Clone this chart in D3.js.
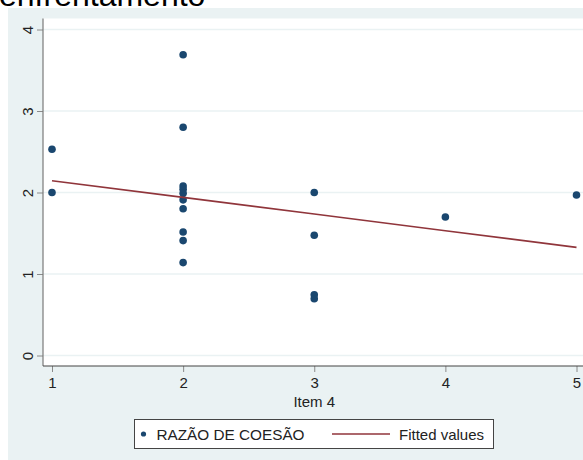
<!DOCTYPE html>
<html>
<head>
<meta charset="utf-8">
<script src="https://cdn.jsdelivr.net/npm/d3@7"></script>
<style>
  html, body { margin: 0; padding: 0; background: #ffffff; overflow: hidden; }
  svg { display: block; font-family: Arial, "Liberation Sans", Helvetica, sans-serif; }
</style>
</head>
<body>
<svg id="chart" width="583" height="460"></svg>
<script>
// Scatter of cohesion ratio against Item 4, with a linear fit
const titleText = "enfrentamento";
const xTicks = [1, 2, 3, 4, 5];
const yTicks = [0, 1, 2, 3, 4];
const xLabel = "Item 4";
const seriesName = "RAZÃO DE COESÃO";
const fitName = "Fitted values";

const item4 = [1, 1, 2, 2, 2, 2, 2, 2, 2, 2, 2, 2, 3, 3, 3, 3, 4, 5];
const razao = [2.53, 2.00, 3.69, 2.80, 2.08, 2.04, 1.99, 1.91, 1.80, 1.515, 1.41, 1.14,
               2.00, 1.475, 0.746, 0.697, 1.70, 1.97];

const W = 583, H = 460;
const svg = d3.select("#chart");

// Ordinary least squares fit
const n = item4.length;
const mx = d3.mean(item4), my = d3.mean(razao);
let sxy = 0, sxx = 0;
for (let i = 0; i < n; i++) {
  sxy += (item4[i] - mx) * (razao[i] - my);
  sxx += (item4[i] - mx) ** 2;
}
const slope = sxy / sxx;
const intercept = my - slope * mx;
const fitted = item4.map(x => intercept + slope * x);

const x = d3.scaleLinear().domain([1, 5]).range([52, 576.5]);
const y = d3.scaleLinear().domain([0, 4]).range([355.5, 29.5]);

const plotLeft = 43, plotTop = 18.5, plotBottom = 366, plotRight = W;

// title (mostly above the visible area)
svg.append("text")
  .attr("x", -1).attr("y", 6)
  .attr("font-size", 32)
  .attr("fill", "#000")
  .text(titleText);

// graph region background
svg.append("rect")
  .attr("x", 8).attr("y", 8)
  .attr("width", W - 8).attr("height", H - 8)
  .attr("fill", "#eaf2f3");

// plot region
svg.append("rect")
  .attr("x", plotLeft).attr("y", plotTop)
  .attr("width", plotRight - plotLeft).attr("height", plotBottom - plotTop)
  .attr("fill", "#ffffff");

// horizontal grid lines
svg.append("g")
  .selectAll("line")
  .data(yTicks)
  .join("line")
  .attr("x1", plotLeft).attr("x2", plotRight)
  .attr("y1", d => y(d)).attr("y2", d => y(d))
  .attr("stroke", "#eaf2f3")
  .attr("stroke-width", 1.5);

// y axis
const yAxis = svg.append("g")
  .attr("transform", `translate(${plotLeft},0)`)
  .call(d3.axisLeft(y).tickValues(yTicks).tickSize(6).tickPadding(0).tickFormat(d3.format("d")));
yAxis.select(".domain").remove();
yAxis.selectAll(".tick line").attr("stroke", "#8a8a8a");
yAxis.selectAll(".tick text")
  .attr("x", 0).attr("dy", 0)
  .attr("text-anchor", "middle")
  .attr("font-size", 15)
  .attr("font-family", "Arial, 'Liberation Sans', sans-serif")
  .attr("fill", "#222")
  .attr("transform", "translate(-16,0) rotate(-90)")
  .attr("dominant-baseline", "central");
svg.append("line")
  .attr("x1", plotLeft).attr("x2", plotLeft)
  .attr("y1", plotTop).attr("y2", plotBottom)
  .attr("stroke", "#7a7a7a").attr("stroke-width", 1.2);

// x axis
const xAxis = svg.append("g")
  .attr("transform", `translate(0,${plotBottom})`)
  .call(d3.axisBottom(x).tickValues(xTicks).tickSize(6).tickPadding(5).tickFormat(d3.format("d")));
xAxis.select(".domain").remove();
xAxis.selectAll(".tick line").attr("stroke", "#8a8a8a");
xAxis.selectAll(".tick text")
  .attr("font-size", 15)
  .attr("font-family", "Arial, 'Liberation Sans', sans-serif")
  .attr("fill", "#222");
svg.append("line")
  .attr("x1", plotLeft).attr("x2", plotRight)
  .attr("y1", plotBottom).attr("y2", plotBottom)
  .attr("stroke", "#444").attr("stroke-width", 1.2);

svg.append("text")
  .attr("x", x(3)).attr("y", 406.5)
  .attr("text-anchor", "middle")
  .attr("font-size", 15)
  .attr("fill", "#222")
  .text(xLabel);

// points
svg.append("g")
  .selectAll("circle")
  .data(item4.map((v, i) => [v, razao[i]]))
  .join("circle")
  .attr("cx", d => x(d[0]))
  .attr("cy", d => y(d[1]))
  .attr("r", 3.8)
  .attr("fill", "#1a476f");

// fitted line
const fitPts = item4.map((v, i) => [v, fitted[i]]).sort((a, b) => a[0] - b[0]);
svg.append("path")
  .datum(fitPts)
  .attr("d", d3.line().x(d => x(d[0])).y(d => y(d[1])))
  .attr("fill", "none")
  .attr("stroke", "#90353b")
  .attr("stroke-width", 1.6);

// legend
const lg = svg.append("g");
lg.append("rect")
  .attr("x", 134.5).attr("y", 419.5)
  .attr("width", 359).attr("height", 29)
  .attr("fill", "#ffffff")
  .attr("stroke", "#444").attr("stroke-width", 1);
lg.append("circle")
  .attr("cx", 143.5).attr("cy", 434)
  .attr("r", 2.6)
  .attr("fill", "#1a476f");
lg.append("text")
  .attr("x", 156.5).attr("y", 440)
  .attr("font-size", 15)
  .attr("fill", "#222")
  .attr("textLength", 148)
  .attr("lengthAdjust", "spacingAndGlyphs")
  .text(seriesName);
lg.append("line")
  .attr("x1", 332).attr("x2", 390)
  .attr("y1", 434).attr("y2", 434)
  .attr("stroke", "#90353b").attr("stroke-width", 1.6);
lg.append("text")
  .attr("x", 399).attr("y", 440)
  .attr("font-size", 15)
  .attr("fill", "#222")
  .text(fitName);
</script>
</body>
</html>
